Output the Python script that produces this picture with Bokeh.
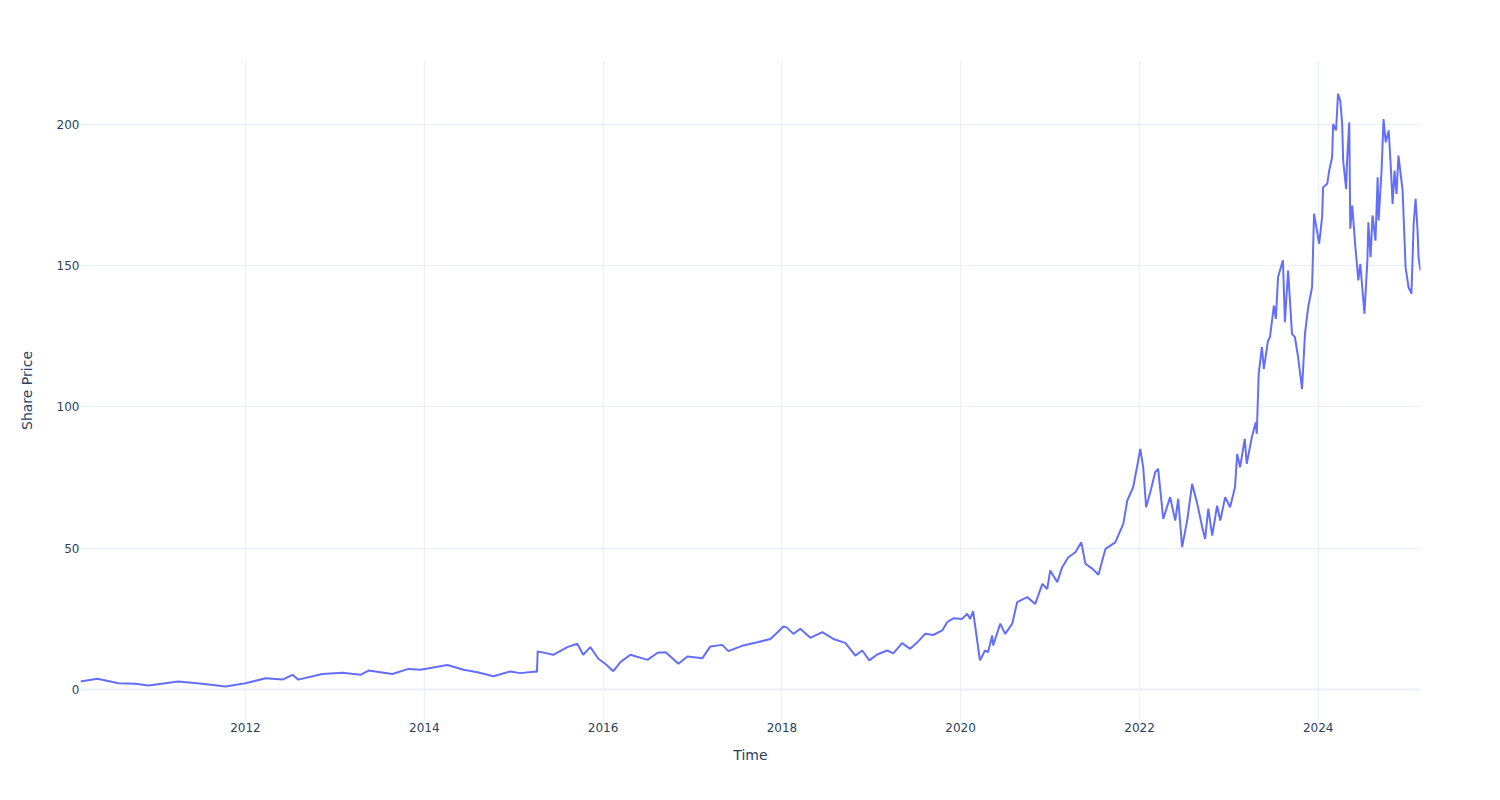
import pandas as pd
from bokeh.plotting import figure
from bokeh.models import Range1d, FixedTicker, DatetimeTickFormatter, Span, ColumnDataSource
from bokeh.embed import file_html
from bokeh.resources import INLINE

dates = [
    "2010-02-26", "2010-05-06", "2010-07-31", "2010-10-08", "2010-12-01", "2011-02-08",
    "2011-04-01", "2011-07-08", "2011-10-11", "2012-01-01", "2012-03-24", "2012-06-01",
    "2012-07-11", "2012-08-04", "2012-11-10", "2013-01-31", "2013-04-15", "2013-05-18",
    "2013-08-23", "2013-10-28", "2013-12-16", "2014-04-05", "2014-06-10", "2014-08-06",
    "2014-10-10", "2014-12-18", "2015-01-28", "2015-03-31", "2015-04-06", "2015-04-09",
    "2015-06-12", "2015-08-08", "2015-09-18", "2015-10-12", "2015-11-10", "2015-12-13",
    "2016-01-10", "2016-02-12", "2016-03-12", "2016-04-22", "2016-07-01", "2016-08-11",
    "2016-09-13", "2016-11-04", "2016-12-11", "2017-02-10", "2017-03-14", "2017-05-02",
    "2017-05-27", "2017-07-27", "2017-09-23", "2017-11-15", "2017-12-14", "2018-01-07",
    "2018-01-20", "2018-02-17", "2018-03-17", "2018-04-27", "2018-06-15", "2018-07-30",
    "2018-09-17", "2018-10-28", "2018-11-25", "2018-12-24", "2019-01-25", "2019-03-07",
    "2019-04-01", "2019-05-07", "2019-06-09", "2019-07-08", "2019-08-09", "2019-09-11",
    "2019-10-18", "2019-11-07", "2019-12-02", "2020-01-07", "2020-01-28", "2020-02-09",
    "2020-02-21", "2020-03-20", "2020-04-10", "2020-04-22", "2020-05-09", "2020-05-13",
    "2020-06-11", "2020-07-01", "2020-07-30", "2020-08-19", "2020-09-29", "2020-11-01",
    "2020-11-30", "2020-12-20", "2021-01-01", "2021-01-30", "2021-02-19", "2021-03-16",
    "2021-04-14", "2021-05-08", "2021-05-25", "2021-06-23", "2021-07-17", "2021-08-15",
    "2021-09-24", "2021-10-27", "2021-11-12", "2021-12-06", "2021-12-23", "2022-01-04",
    "2022-01-16", "2022-01-28", "2022-02-14", "2022-03-06", "2022-03-18", "2022-04-08",
    "2022-05-06", "2022-05-27", "2022-06-08", "2022-06-24", "2022-07-15", "2022-08-04",
    "2022-08-25", "2022-09-14", "2022-09-26", "2022-10-09", "2022-10-25", "2022-11-14",
    "2022-11-27", "2022-12-17", "2023-01-06", "2023-01-26", "2023-02-04", "2023-02-16",
    "2023-03-07", "2023-03-15", "2023-04-05", "2023-04-21", "2023-04-25", "2023-05-03",
    "2023-05-16", "2023-05-24", "2023-06-10", "2023-06-18", "2023-07-04", "2023-07-12",
    "2023-07-21", "2023-08-10", "2023-08-18", "2023-08-31", "2023-09-16", "2023-09-28",
    "2023-10-11", "2023-10-27", "2023-11-08", "2023-11-21", "2023-12-07", "2023-12-15",
    "2024-01-05", "2024-01-17", "2024-01-21", "2024-02-07", "2024-02-15", "2024-02-27",
    "2024-03-02", "2024-03-14", "2024-03-22", "2024-03-31", "2024-04-08", "2024-04-12",
    "2024-04-24", "2024-04-28", "2024-05-07", "2024-05-11", "2024-05-19", "2024-06-01",
    "2024-06-13", "2024-06-21", "2024-07-08", "2024-07-20", "2024-07-24", "2024-08-02",
    "2024-08-10", "2024-08-22", "2024-08-31", "2024-09-04", "2024-09-16", "2024-09-24",
    "2024-10-03", "2024-10-15", "2024-10-23", "2024-10-31", "2024-11-08", "2024-11-16",
    "2024-11-24", "2024-12-11", "2024-12-23", "2025-01-04", "2025-01-16", "2025-01-25",
    "2025-02-02", "2025-02-10", "2025-02-14", "2025-02-22",
]

prices = [
    2.8, 3.8, 2.2, 2.0, 1.4, 2.2,
    2.8, 2.0, 1.1, 2.2, 4.0, 3.5,
    5.2, 3.5, 5.5, 5.9, 5.2, 6.7,
    5.5, 7.3, 7.0, 8.7, 7.0, 6.1,
    4.7, 6.4, 5.8, 6.4, 6.3, 13.5,
    12.3, 15.0, 16.2, 12.3, 15.0, 10.9,
    9.1, 6.5, 9.7, 12.3, 10.5, 13.0,
    13.2, 9.1, 11.7, 11.1, 15.2, 15.8,
    13.6, 15.6, 16.7, 17.9, 20.3, 22.3,
    22.0, 19.7, 21.5, 18.3, 20.3, 17.9,
    16.5, 12.0, 13.8, 10.3, 12.4, 13.8,
    12.8, 16.4, 14.4, 16.7, 19.7, 19.3,
    20.9, 23.8, 25.2, 25.0, 26.8, 25.0,
    27.7, 10.3, 13.8, 13.2, 19.1, 15.6,
    23.3, 19.7, 23.3, 30.9, 32.7, 30.3,
    37.4, 35.6, 42.1, 38.0, 43.3, 46.8,
    48.6, 52.1, 44.5, 42.7, 40.6, 49.8,
    52.1, 58.7, 66.9, 71.6, 79.3, 85.2,
    78.7, 64.5, 69.8, 76.9, 78.1, 60.4,
    68.1, 59.8, 67.5, 50.4, 60.0, 72.8,
    65.7, 57.5, 53.3, 64.0, 54.5, 65.1,
    59.8, 68.1, 64.5, 71.6, 83.4, 78.7,
    88.7, 79.9, 89.3, 94.6, 90.5, 111.8,
    121.2, 113.5, 123.5, 124.7, 135.9, 131.2,
    146.0, 151.9, 130.0, 148.3, 125.9, 124.7,
    117.6, 106.4, 125.9, 135.3, 142.4, 168.4,
    157.8, 167.2, 177.8, 179.0, 183.7, 188.4,
    200.2, 197.9, 210.9, 208.5, 200.2, 187.3,
    177.2, 187.3, 200.8, 163.1, 171.3, 156.6,
    144.8, 150.7, 133.0, 151.9, 165.4, 153.0,
    167.8, 158.9, 181.3, 166.0, 183.7, 201.9,
    193.7, 197.9, 186.1, 171.9, 183.7, 175.4,
    189.0, 176.6, 149.5, 142.4, 140.1, 164.8,
    173.7, 162.5, 153.0, 148.3,
]

x_tick_years = [2012, 2014, 2016, 2018, 2020, 2022, 2024]
y_ticks = [0, 50, 100, 150, 200]

x = pd.to_datetime(dates)
src = ColumnDataSource(data=dict(x=x, y=prices))

FONT = "DejaVu Sans"
TXT = "#2a3f5f"
GRID = "#ebf0f8"

p = figure(
    width=1500, height=800,
    x_axis_type="datetime",
    x_range=Range1d(x[0], x[-1]),
    y_range=Range1d(-10.97, 222.65),
    output_backend="svg", toolbar_location=None,
    min_border_left=80, min_border_right=80, min_border_top=60, min_border_bottom=80,
)
p.outline_line_color = None
p.background_fill_color = "white"
p.border_fill_color = "white"

tick_ms = [pd.Timestamp(f"{yr}-01-01").value / 1e6 for yr in x_tick_years]
p.xaxis.ticker = FixedTicker(ticks=tick_ms)
p.xaxis.formatter = DatetimeTickFormatter(years="%Y", months="%Y", days="%Y", hours="%Y")
p.yaxis.ticker = FixedTicker(ticks=y_ticks)

for ax in (p.xaxis[0], p.yaxis[0]):
    ax.axis_line_color = None
    ax.major_tick_line_color = None
    ax.minor_tick_line_color = None
    ax.major_tick_out = 0
    ax.major_tick_in = 0
    ax.minor_tick_out = 0
    ax.minor_tick_in = 0
    ax.major_label_text_font = FONT
    ax.major_label_text_font_size = "12px"
    ax.major_label_text_color = TXT
    ax.axis_label_text_font = FONT
    ax.axis_label_text_font_size = "14px"
    ax.axis_label_text_color = TXT
    ax.axis_label_text_font_style = "normal"

p.xaxis.axis_label = "Time"
p.yaxis.axis_label = "Share Price"
p.xaxis.major_label_standoff = 2
p.xaxis.axis_label_standoff = 12
p.yaxis.major_label_standoff = 1
p.yaxis.axis_label_standoff = 19

p.xgrid.grid_line_color = GRID
p.ygrid.grid_line_color = GRID
p.xgrid.grid_line_width = 1
p.ygrid.grid_line_width = 1

zero = Span(location=0, dimension="width", line_color=GRID, line_width=2, level="underlay")
p.add_layout(zero)

p.line("x", "y", source=src, line_color="#636efa", line_width=2)

open("out.html", "w").write(file_html(p, INLINE))
